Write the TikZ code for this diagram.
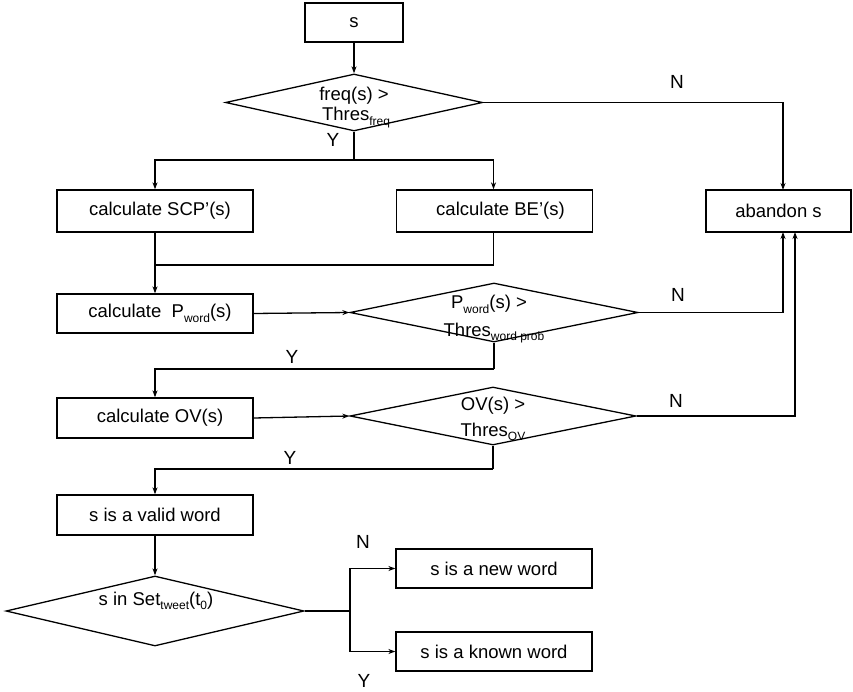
\documentclass[tikz,border=0pt]{standalone}
\usepackage{fontspec}
\setmainfont{Liberation Sans}
\usetikzlibrary{shapes.geometric,arrows.meta,calc}
\newcommand{\lowsub}[1]{\raisebox{-0.5ex}{\fontsize{12}{12}\selectfont #1}}
\begin{document}
\begin{tikzpicture}[x=1pt,y=-1pt,
  every node/.style={font=\fontsize{18.5}{22}\selectfont},
  box/.style={draw,line width=1.3pt,minimum width=196pt,minimum height=40pt,inner sep=0pt},
  dia/.style={draw,diamond,line width=1.3pt,inner sep=0pt},
  line/.style={line width=1.3pt},
  arr/.style={line,-{Stealth[length=7pt,width=5pt]}},
  lbl/.style={font=\fontsize{19}{22}\selectfont},
  dtext/.style={anchor=base,inner sep=0pt}]
\useasboundingbox (0,0) rectangle (853,692);

% boxes
\node[box,minimum width=98pt,minimum height=39pt] (s) at (354,22.5) {s};
\node[box,minimum height=42pt] (scp) at (155,211) {\hspace{10pt}calculate SCP’(s)};
\node[box,minimum height=42pt] (be) at (494.5,211) {\hspace{12pt}calculate BE’(s)};
\node[box,minimum width=145pt,minimum height=42pt] (ab) at (778.5,211) {abandon s};
\node[box,minimum height=39pt] (pw) at (155,313.5) {\hspace{10pt}calculate\ \ P\lowsub{word}(s)};
\node[box] (ov) at (155,418) {\hspace{10pt}calculate OV(s)};
\node[box] (valid) at (155,515) {s is a valid word};
\node[box,minimum height=39pt] (new) at (494,568.5) {s is a new word};
\node[box,minimum height=39pt] (known) at (494,651.5) {s is a known word};

% diamonds
\node[dia,minimum width=257pt,minimum height=57pt] (d1) at (354,102.5) {};
\node[dia,minimum width=288pt,minimum height=59pt] (d2) at (494,312.5) {};
\node[dia,minimum width=286pt,minimum height=58pt] (d3) at (493,416) {};
\node[dia,minimum width=298pt,minimum height=70pt] (d4) at (155,611) {};

% diamond texts
\node[dtext] (t1a) at (354,100.5) {freq(s) >};
\node[dtext] (t1b) at (356,121) {Thres\lowsub{freq}};
\node[dtext] (t2a) at (489,308.5) {P\lowsub{word}(s) >};
\node[dtext] (t2b) at (494,336) {Thres\lowsub{word prob}};
\node[dtext] (t3a) at (493,410) {OV(s) >};
\node[dtext] (t3b) at (493,436) {Thres\lowsub{OV}};
\node[dtext] (t4) at (156,605) {s in Set\lowsub{tweet}(t\lowsub{0})};

% labels
\node[lbl] (n1) at (677,82) {N};
\node[lbl] (y1) at (333,140) {Y};
\node[lbl] (n2) at (678,295) {N};
\node[lbl] (y2) at (292,357) {Y};
\node[lbl] (n3) at (676,401) {N};
\node[lbl] (y3) at (290,458) {Y};
\node[lbl] (n4) at (363,542) {N};
\node[lbl] (y4) at (364,681) {Y};

% junction coordinates
\coordinate (j1) at (354,160);
\coordinate (m1) at (155,265);
\coordinate (j2) at (494,369);
\coordinate (j3) at (493,469);
\coordinate (j4) at (350,611);
\coordinate (abt) at (783,190);
\coordinate (abb1) at (783,232);
\coordinate (abb2) at (795,232);

% connectors
\draw[arr] (s) -- (d1.north);
\draw[line] (d1.south) -- (j1);
\draw[arr] (j1) -| (scp.north);
\draw[arr] (j1) -| ([xshift=-1pt]be.north);
\draw[arr] (d1.east) -| (abt);
\draw[arr] (scp.south) -- (pw.north);
\draw[line] ([xshift=-1pt]be.south) |- (m1);
\draw[arr] (pw.east) -- (d2.west);
\draw[arr] (d2.east) -| (abb1);
\draw[line] (d2.south) -- (j2);
\draw[arr] (j2) -| (ov.north);
\draw[arr] (ov.east) -- (d3.west);
\draw[arr] (d3.east) -| (abb2);
\draw[line] (d3.south) -- (j3);
\draw[arr] (j3) -| (valid.north);
\draw[arr] (valid.south) -- (d4.north);
\draw[line] (d4.east) -- (j4);
\draw[arr] (j4) |- (new.west);
\draw[arr] (j4) |- (known.west);
\end{tikzpicture}
\end{document}
